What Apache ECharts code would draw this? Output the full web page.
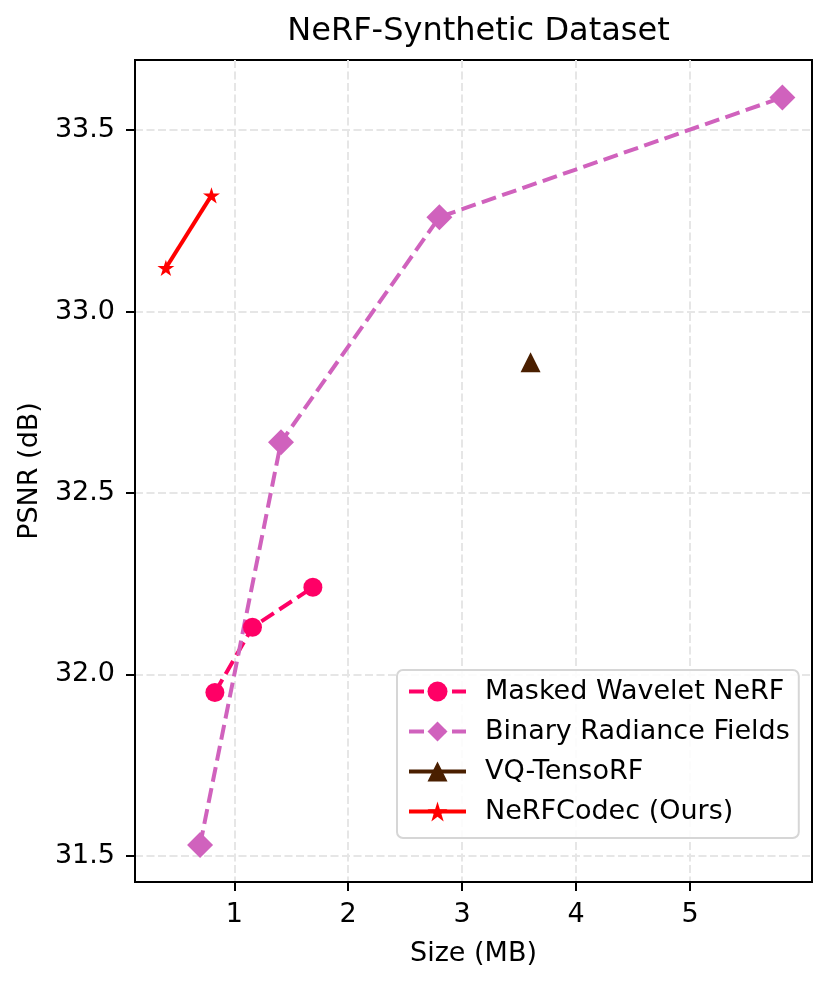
<!DOCTYPE html>
<html>
<head>
<meta charset="utf-8">
<script src="https://cdn.jsdelivr.net/npm/echarts@6/dist/echarts.min.js"></script>
<style>
html, body { margin: 0; padding: 0; background: #fff; }
#chart { width: 832px; height: 984px; }
</style>
</head>
<body>
<div id="chart"></div>
<script>
// values
var maskedSize = [0.83, 1.16, 1.69]
var maskedPsnr = [31.95, 32.13, 32.24]
var binarySize = [0.70, 1.41, 2.80, 5.81]
var binaryPsnr = [31.53, 32.64, 33.26, 33.59]
var vqSize = [3.60]
var vqPsnr = [32.86]
var codecSize = [0.40, 0.80]
var codecPsnr = [33.12, 33.32]

var xTicks = [1, 2, 3, 4, 5]
var yTicks = [31.5, 32.0, 32.5, 33.0, 33.5]
var seriesNames = ['Masked Wavelet NeRF', 'Binary Radiance Fields', 'VQ-TensoRF', 'NeRFCodec (Ours)']

var font = 'DejaVu Sans'
var starPath = 'path://M50 0 L61.23 34.55 L97.55 34.55 L68.17 55.9 L79.39 90.45 L50 69.1 L20.61 90.45 L31.83 55.9 L2.45 34.55 L38.77 34.55 Z'

function pairs(xs, ys) {
	return xs.map(function (x, i) { return [x, ys[i]] })
}

function makeSeries(name, data, color, symbol, size, dashed) {
	return {
		name: name,
		type: 'line',
		data: data,
		symbol: symbol,
		symbolSize: size,
		symbolKeepAspect: true,
		showSymbol: true,
		itemStyle: { color: color },
		lineStyle: {
			color: color,
			width: 4,
			type: dashed ? [15, 6.5] : 'solid'
		},
		emphasis: { disabled: true }
	}
}

var axisCommon = {
	type: 'value',
	axisLine: { show: true, lineStyle: { color: '#000', width: 2 } },
	axisTick: { show: true, length: 9, lineStyle: { color: '#000', width: 2 } },
	splitLine: {
		show: true,
		lineStyle: { color: '#e6e6e6', width: 2, type: [8, 3.5] }
	},
	nameTextStyle: { fontFamily: font, fontSize: 27, color: '#000' }
}

var myChart = echarts.init(document.getElementById('chart'), null, { renderer: 'canvas' })

var option = {
	animation: false,
	backgroundColor: '#fff',
	title: {
		text: 'NeRF-Synthetic Dataset',
		left: 473.5,
		top: 11,
		textAlign: 'center',
		textStyle: { fontFamily: font, fontSize: 32, fontWeight: 'normal', color: '#000' }
	},
	grid: {
		left: 135,
		right: 20,
		top: 60,
		bottom: 102,
		show: true,
		borderColor: '#000',
		borderWidth: 2,
		backgroundColor: 'transparent'
	},
	legend: {
		orient: 'vertical',
		left: 397,
		top: 670,
		data: seriesNames,
		itemWidth: 57,
		itemHeight: 25,
		itemGap: 13,
		padding: [8, 9, 13, 10],
		backgroundColor: 'rgba(255,255,255,0.85)',
		borderColor: '#d6d6d6',
		borderWidth: 2,
		borderRadius: 6,
		lineStyle: { width: 4 },
		textStyle: { fontFamily: font, fontSize: 27, color: '#000', padding: [0, 0, 0, 14] }
	},
	xAxis: Object.assign({}, axisCommon, {
		min: 0.129,
		max: 6.07,
		name: 'Size (MB)',
		nameLocation: 'middle',
		nameGap: 58,
		axisTick: Object.assign({}, axisCommon.axisTick, { customValues: xTicks }),
		axisLabel: {
			customValues: xTicks,
			margin: 19,
			fontFamily: font,
			fontSize: 27,
			color: '#000'
		}
	}),
	yAxis: Object.assign({}, axisCommon, {
		min: 31.428,
		max: 33.693,
		name: 'PSNR (dB)',
		nameLocation: 'middle',
		nameGap: 88,
		axisTick: Object.assign({}, axisCommon.axisTick, { customValues: yTicks }),
		axisLabel: {
			customValues: yTicks,
			margin: 20,
			fontFamily: font,
			fontSize: 27,
			color: '#000',
			formatter: function (v) { return v.toFixed(1) }
		}
	}),
	series: [
		makeSeries(seriesNames[0], pairs(maskedSize, maskedPsnr), '#ff0066', 'circle', 19, true),
		makeSeries(seriesNames[1], pairs(binarySize, binaryPsnr), '#d062bd', 'diamond', 26, true),
		makeSeries(seriesNames[2], pairs(vqSize, vqPsnr), '#4a1f00', 'triangle', 20, false),
		makeSeries(seriesNames[3], pairs(codecSize, codecPsnr), '#ff0000', starPath, 17, false)
	]
}

myChart.setOption(option)
</script>
</body>
</html>
